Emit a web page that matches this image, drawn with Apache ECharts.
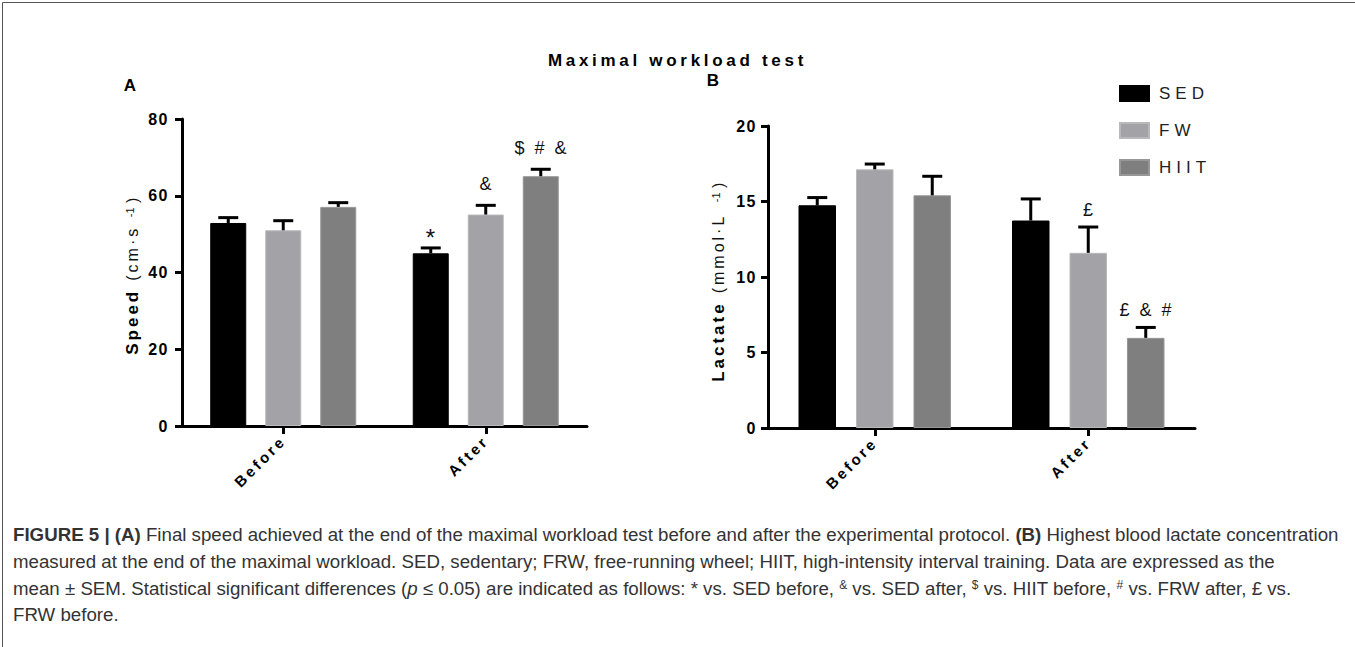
<!DOCTYPE html>
<html><head><meta charset="utf-8">
<script src="https://cdn.jsdelivr.net/npm/echarts@6/dist/echarts.min.js"></script>
<style>
html,body{margin:0;padding:0;background:#fff}
#c{width:1355px;height:647px}
text[style*="spA"],text[font-family*="spA"]{letter-spacing:1.5px}
text[style*="spB"],text[font-family*="spB"]{letter-spacing:3px}
text[style*="spC"],text[font-family*="spC"]{letter-spacing:3.7px}
text[style*="spD"],text[font-family*="spD"]{letter-spacing:5px}
text[style*="spE"],text[font-family*="spE"]{letter-spacing:3px}
text[style*="spG"],text[font-family*="spG"]{letter-spacing:2.5px}
</style>
</head><body><div id="c"></div><script>
// ---------- data ----------
const categories = ['Before', 'After'];
const groups = ['SED', 'FW', 'HIIT'];
const speedTicks = [0, 20, 40, 60, 80];
const lactTicks = [0, 5, 10, 15, 20];

const speedSED = [52.9, 45.0];
const speedFW = [51.0, 55.1];
const speedHIIT = [57.1, 65.1];
const speedErrSED = [1.4, 1.4];
const speedErrFW = [2.5, 2.4];
const speedErrHIIT = [1.1, 1.8];
const speedSigSED = ['', '*'];
const speedSigFW = ['', '&'];
const speedSigHIIT = ['', '$ # &'];

const lactSED = [14.75, 13.74];
const lactFW = [17.13, 11.6];
const lactHIIT = [15.41, 5.97];
const lactErrSED = [0.51, 1.43];
const lactErrFW = [0.35, 1.71];
const lactErrHIIT = [1.26, 0.69];
const lactSigSED = ['', ''];
const lactSigFW = ['', '£'];
const lactSigHIIT = ['', '£ & #'];

const speedName = ['Speed', '(cm·s', '-1', ')'];
const lactName = ['Lactate', '(mmol·L', '-1', ')'];

const captionLines = [
  '{b|FIGURE 5 | (A)} Final speed achieved at the end of the maximal workload test before and after the experimental protocol. {b|(B)} Highest blood lactate concentration',
  'measured at the end of the maximal workload. SED, sedentary; FRW, free-running wheel; HIIT, high-intensity interval training. Data are expressed as the',
  'mean ± SEM. Statistical significant differences ({i|p} ≤ 0.05) are indicated as follows: * vs. SED before, {sup|&} vs. SED after, {sup|$} vs. HIIT before, {sup|#} vs. FRW after, £ vs.',
  'FRW before.'
];

// ---------- styles ----------
const FF = '"Liberation Sans"';
const NB = '\u00a0';
const SP = 3; // letter spacing used for axis names (px), see CSS spE
const colors = {SED: '#000000', FW: '#a3a3a7', HIIT: '#7f7f7f'};
const borders = {SED: '#000000', FW: '#b9b9bc', HIIT: '#979797'};

const panels = [
  {grid: {left: 182, top: 119, width: 405, height: 307}, barWidth: 36, gapPx: 19,
   ticks: speedTicks, vals: [speedSED, speedFW, speedHIIT], errs: [speedErrSED, speedErrFW, speedErrHIIT],
   sigs: [speedSigSED, speedSigFW, speedSigHIIT], sigLift: 12, nameParts: speedName, labelMargin: 13},
  {grid: {left: 768, top: 126, width: 427, height: 302}, barWidth: 37.5, gapPx: 20,
   ticks: lactTicks, vals: [lactSED, lactFW, lactHIIT], errs: [lactErrSED, lactErrFW, lactErrHIIT],
   sigs: [lactSigSED, lactSigFW, lactSigHIIT], sigLift: 8, nameParts: lactName, labelMargin: 11}
];

function errRender(offset, sigs, lift) {
  return function (params, api) {
    const idx = api.value(0), v = api.value(1), e = api.value(2);
    const base = api.coord([idx, v]);
    const top = api.coord([idx, v + e]);
    const x = base[0] + offset;
    const children = [
      {type: 'line', shape: {x1: x, y1: base[1], x2: x, y2: top[1]}, style: {stroke: '#000', lineWidth: 3}},
      {type: 'line', shape: {x1: x - 10, y1: top[1], x2: x + 10, y2: top[1]}, style: {stroke: '#000', lineWidth: 3}}
    ];
    const s = sigs[params.dataIndex];
    if (s) {
      const star = s === '*';
      children.push({type: 'text', style: {
        text: s, x: x + 1, y: top[1] - (star ? -2 : lift), align: 'center', verticalAlign: 'bottom',
        fontSize: star ? 24 : 18, fontFamily: FF + ', spG', fill: '#111'}});
    }
    return {type: 'group', children: children};
  };
}

const grids = [], xAxes = [], yAxes = [], series = [];
panels.forEach(function (p, pi) {
  grids.push(p.grid);
  xAxes.push({
    type: 'category', gridIndex: pi, data: categories, boundaryGap: true,
    axisLine: {show: true, lineStyle: {color: '#000', width: 3}},
    axisTick: {show: true, alignWithLabel: true, length: 8, lineStyle: {color: '#000', width: 3}},
    axisLabel: {rotate: 45, margin: 12, color: '#000', fontWeight: 'bold', fontSize: 15, fontFamily: FF + ', spB'},
    splitLine: {show: false}
  });
  const t = p.ticks;
  const np = p.nameParts;
  yAxes.push({
    type: 'value', gridIndex: pi, min: t[0], max: t[t.length - 1], interval: t[1] - t[0],
    axisLine: {show: true, lineStyle: {color: '#000', width: 3}},
    axisTick: {show: true, length: 7, lineStyle: {color: '#000', width: 3}},
    axisLabel: {margin: p.labelMargin, color: '#000', fontWeight: 'bold', fontSize: 16, fontFamily: FF + ', spA'},
    splitLine: {show: false},
    name: '{b|' + np[0] + '}{r|' + np[1] + '}{sup|' + np[2] + '}{r2|' + NB + np[3] + '}',
    nameLocation: 'middle', nameGap: 41, nameRotate: 90,
    nameTextStyle: {
      color: '#000',
      rich: {
        b: {fontWeight: 'bold', fontSize: 17, fontFamily: FF + ', spE', color: '#000', padding: [0, np[0].length * SP + 8, 0, 0]},
        r: {fontSize: 16, fontFamily: FF + ', spE', color: '#111', padding: [0, np[1].length * SP + 1, 0, 0]},
        sup: {fontSize: 11, fontFamily: FF, color: '#111', verticalAlign: 'top'},
        r2: {fontSize: 16, fontFamily: FF, color: '#111'}
      }
    }
  });
  const pitch = p.barWidth + p.gapPx;
  groups.forEach(function (g, gi) {
    series.push({
      type: 'bar', name: g, xAxisIndex: pi, yAxisIndex: pi,
      data: p.vals[gi], barWidth: p.barWidth, barGap: (p.gapPx / p.barWidth * 100).toFixed(1) + '%',
      itemStyle: {color: colors[g], borderColor: borders[g], borderWidth: 1},
      z: 2
    });
  });
  groups.forEach(function (g, gi) {
    series.push({
      type: 'custom', xAxisIndex: pi, yAxisIndex: pi, z: 3,
      data: p.vals[gi].map(function (v, i) { return [i, v, p.errs[gi][i]]; }),
      renderItem: errRender((gi - 1) * pitch, p.sigs[gi], p.sigLift),
      encode: {x: 0, y: 1}
    });
  });
});

const graphics = [
  {type: 'line', shape: {x1: 2.5, y1: 2.5, x2: 1355, y2: 2.5}, style: {stroke: '#555', lineWidth: 1}},
  {type: 'line', shape: {x1: 2.5, y1: 2.5, x2: 2.5, y2: 647}, style: {stroke: '#555', lineWidth: 1}},
  {type: 'text', style: {text: 'A', x: 130, y: 85, align: 'center', verticalAlign: 'middle', fontSize: 17, fontWeight: 'bold', fontFamily: FF, fill: '#000'}},
  {type: 'text', style: {text: 'B', x: 713, y: 80, align: 'center', verticalAlign: 'middle', fontSize: 17, fontWeight: 'bold', fontFamily: FF, fill: '#000'}}
];
const capY = [534, 561, 588, 614];
const capSize = 18.7;
captionLines.forEach(function (line, i) {
  graphics.push({type: 'text', style: {
    text: line, x: 13, y: capY[i], align: 'left', verticalAlign: 'middle',
    fontSize: capSize, fontFamily: FF, fill: '#333',
    rich: {
      b: {fontSize: capSize, fontWeight: 'bold', fontFamily: FF, fill: '#333'},
      i: {fontSize: capSize, fontStyle: 'italic', fontFamily: FF, fill: '#333'},
      sup: {fontSize: 12, fontFamily: FF, fill: '#333', verticalAlign: 'top'}
    }
  }});
});

const chart = echarts.init(document.getElementById('c'), null, {renderer: 'svg'});
chart.setOption({
  animation: false,
  backgroundColor: '#fff',
  title: {text: 'Maximal workload test', left: 'center', top: 47,
    textStyle: {fontSize: 17, fontWeight: 'bold', fontFamily: FF + ', spC', color: '#000'}},
  legend: {
    orient: 'vertical', left: 1114, top: 80, itemWidth: 29, itemHeight: 15, itemGap: 20,
    icon: 'rect', data: groups, selectedMode: false,
    textStyle: {fontSize: 17, color: '#222', fontFamily: FF + ', spD', padding: [0, 0, 0, 5]}
  },
  grid: grids, xAxis: xAxes, yAxis: yAxes, series: series,
  graphic: graphics
});
</script></body></html>
